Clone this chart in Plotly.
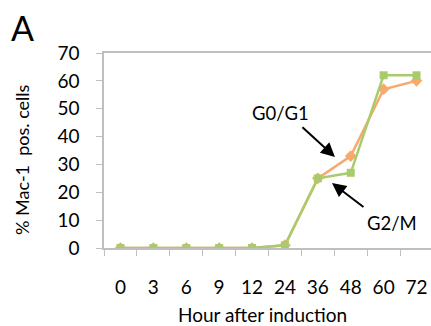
import plotly.graph_objects as go

hours = ["0", "3", "6", "9", "12", "24", "36", "48", "60", "72"]
g0g1 = [0, 0, 0, 0, 0, 1, 25, 33, 57, 60]
g2m = [0, 0, 0, 0, 0, 1, 25, 27, 62, 62]

W, H = 431, 326
L, R, T, B = 104, 0, 53, 78
FONT = "Lato, 'Open Sans', sans-serif"

fig = go.Figure()
xs = list(range(len(hours)))
fig.add_trace(go.Scatter(x=xs, y=g0g1, mode="lines+markers", name="G0/G1",
                         line=dict(color="#F8A96C", width=2.5),
                         marker=dict(symbol="diamond", size=9, color="#F8A96C")))
fig.add_trace(go.Scatter(x=xs, y=g2m, mode="lines+markers", name="G2/M",
                         line=dict(color="#A9CB6E", width=2.5),
                         marker=dict(symbol="square", size=8, color="#A9CB6E")))

pw = W - L - R
ph = H - T - B
def px(x):  # x in page pixels
    return (x - L) / pw
def py(y):
    return (H - B - y) / ph

ann = []
ann.append(dict(text="A", xref="paper", yref="paper", x=px(22), y=py(27), showarrow=False,
                xanchor="center", yanchor="middle",
                font=dict(size=34, color="black", family=FONT)))
ann.append(dict(text="% Mac-1  pos. cells", xref="paper", yref="paper", x=px(22), y=py(160),
                xanchor="center", yanchor="middle",
                textangle=-90, showarrow=False, font=dict(size=18, color="black", family=FONT)))
ann.append(dict(text="Hour after induction", xref="paper", yref="paper", x=px(262), y=py(314),
                xanchor="center", yanchor="middle",
                showarrow=False, font=dict(size=19, color="black", family=FONT)))
ann.append(dict(text="G0/G1", x=4.85, y=48.5, xref="x", yref="y", showarrow=False,
                font=dict(size=18.5, color="black", family=FONT)))
ann.append(dict(text="G2/M", x=8.25, y=9.0, xref="x", yref="y", showarrow=False,
                font=dict(size=18.5, color="black", family=FONT)))
ann.append(dict(text="", x=6.52, y=32.7, xref="x", yref="y", ax=-34, ay=-31, showarrow=True,
                arrowhead=2, arrowsize=1.4, arrowwidth=2, arrowcolor="black"))
ann.append(dict(text="", x=6.43, y=23.3, xref="x", yref="y", ax=33, ay=25, showarrow=True,
                arrowhead=2, arrowsize=1.4, arrowwidth=2, arrowcolor="black"))

fig.update_layout(
    width=W, height=H, margin=dict(l=L, r=R, t=T, b=B),
    paper_bgcolor="white", plot_bgcolor="white", showlegend=False,
    font=dict(family=FONT, size=19, color="black"),
    annotations=ann,
)
fig.update_xaxes(type="linear", range=[-0.5, 9.44], tickmode="array",
                 tickvals=xs, ticktext=hours,
                 showgrid=False, zeroline=False, showline=True, linecolor="#BFBFBF", linewidth=1.5,
                 mirror=True, ticks="", ticklabelstandoff=21,
                 tickfont=dict(size=19, family=FONT, color="black"))
fig.update_xaxes(minor=dict(tickmode="array", tickvals=[i - 0.5 for i in range(len(hours) + 1)],
                            ticks="outside", ticklen=6, tickcolor="#BFBFBF", tickwidth=1.2, showgrid=False))
fig.update_yaxes(range=[0, 70], dtick=10, showgrid=False, zeroline=False, showline=True,
                 linecolor="#BFBFBF", linewidth=1.5, ticks="outside", ticklen=6, tickcolor="#BFBFBF",
                 tickwidth=1.2, ticklabelstandoff=13, tickfont=dict(size=19, family=FONT, color="black"))

fig.write_html("out.html", config={"displayModeBar": False},
               post_script="document.body.style.margin='0';document.body.style.overflow='hidden';")
